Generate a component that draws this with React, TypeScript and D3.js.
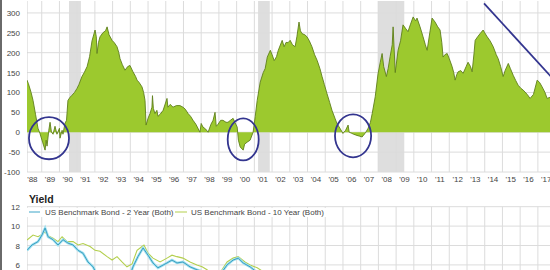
import React from "react";
import * as d3 from "d3";

// ---- Data ----
const yearTicks = [1988,1989,1990,1991,1992,1993,1994,1995,1996,1997,1998,1999,2000,2001,2002,2003,2004,2005,2006,2007,2008,2009,2010,2011,2012,2013,2014,2015,2016,2017];
const yearLabels = ["'88","'89","'90","'91","'92","'93","'94","'95","'96","'97","'98","'99","'00","'01","'02","'03","'04","'05","'06","'07","'08","'09","'10","'11","'12","'13","'14","'15","'16","'17"];
const spreadTicks = [-100, -50, 0, 50, 100, 150, 200, 250, 300];
const yieldTicks = [6, 8, 10, 12];

const spreadDates = [
  1988.17,1988.25,1988.40,1988.51,1988.65,1988.79,1988.90,1989.05,1989.19,1989.25,1989.30,1989.40,1989.47,1989.55,1989.64,1989.75,1989.86,1990.00,1990.03,1990.15,1990.20,1990.31,1990.40,1990.48,1990.60,1990.71,1990.85,1990.99,
  1991.10,1991.27,1991.40,1991.56,1991.70,1991.84,1992.01,1992.08,1992.12,1992.20,1992.29,1992.45,1992.60,1992.69,1992.80,1992.97,1993.10,1993.25,1993.35,1993.42,1993.55,1993.70,1993.85,1993.98,
  1994.15,1994.30,1994.38,1994.50,1994.66,1994.75,1994.83,1994.89,1995.00,1995.11,1995.22,1995.25,1995.30,1995.39,1995.50,1995.56,1995.68,1995.85,1996.07,1996.12,1996.25,1996.41,1996.60,1996.80,1996.97,
  1997.10,1997.26,1997.40,1997.54,1997.70,1997.93,1998.00,1998.10,1998.25,1998.39,1998.55,1998.67,1998.78,1998.85,1998.95,1999.10,1999.23,1999.40,1999.51,1999.65,1999.80,1999.90,
  2000.03,2000.10,2000.20,2000.37,2000.45,2000.59,2000.76,2000.93,2001.05,2001.16,2001.33,2001.50,2001.61,2001.73,2001.90,2002.00,2002.12,2002.25,2002.35,2002.57,2002.68,2002.79,2002.90,
  2003.02,2003.15,2003.30,2003.40,2003.52,2003.60,2003.69,2003.85,2003.97,2004.10,2004.25,2004.40,2004.54,2004.70,2004.82,2004.95,2005.10,2005.25,2005.38,2005.55,2005.66,2005.83,
  2006.00,2006.15,2006.29,2006.35,2006.46,2006.60,2006.79,2006.95,2007.08,2007.20,2007.25,2007.42,2007.55,2007.65,2007.82,2007.98,2008.10,2008.21,2008.30,2008.45,2008.55,2008.66,2008.78,2008.83,2008.95,
  2009.11,2009.25,2009.39,2009.55,2009.67,2009.80,2009.96,2010.10,2010.18,2010.35,2010.52,2010.65,2010.75,2010.90,2011.03,2011.20,2011.35,2011.48,2011.58,2011.65,2011.75,2011.88,
  2012.00,2012.16,2012.25,2012.33,2012.42,2012.50,2012.65,2012.78,2012.95,2013.06,2013.20,2013.29,2013.40,2013.46,2013.60,2013.74,2013.91,2014.00,2014.14,2014.30,2014.48,2014.65,2014.76,2014.90,
  2015.04,2015.15,2015.33,2015.45,2015.61,2015.75,2015.89,2016.05,2016.17,2016.40,2016.56,2016.75,2016.96,2017.10,2017.24,2017.40,2017.52,2017.69,2017.80
];
const spreadValues = [
  131,122,100,80,45,10,-3,-25,-45,-20,-35,5,25,0,-5,15,-5,10,-15,5,-5,22,30,80,88,93,100,110,
  120,140,150,165,190,230,257,240,198,225,240,250,255,265,245,231,225,215,200,185,170,156,165,168,
  152,140,131,125,114,100,80,18,35,47,63,92,60,47,55,40,45,55,85,63,70,63,67,67,63,
  58,47,40,30,20,0,22,13,8,0,20,30,50,15,20,30,30,25,25,30,35,25,
  13,-20,-37,-45,-30,-25,-20,0,40,80,126,150,160,189,206,195,180,190,206,231,215,226,225,
  231,220,215,240,277,255,248,245,240,230,215,195,181,160,140,120,97,75,55,35,22,10,
  -3,5,18,0,-2,-5,-8,-10,-12,-5,-3,10,25,47,89,147,175,198,165,140,160,190,220,265,150,
  206,230,270,260,253,270,290,280,287,265,240,220,206,250,287,277,265,257,225,189,195,198,
  185,165,150,131,145,152,155,148,165,176,165,152,200,231,240,248,257,250,240,230,215,195,185,165,
  140,155,173,160,143,130,118,110,106,95,85,95,131,125,114,100,85,88,85
];

const recessionStarts = [1990.54, 2001.21, 2007.96];
const recessionEnds = [1991.21, 2001.87, 2009.46];

// circled inversions: centre (year, bp) and radii (years, bp)
const circleYears = [1989.41, 2000.37, 2006.57];
const circleValues = [-15, -18, -9];
const circleRx = [1.13, 0.875, 1.02];
const circleRy = [53, 53, 54];

const trendYears = [2013.96, 2017.72];
const trendValues = [324, 141];

const y2Dates = [1988.17,1988.45,1988.79,1989.02,1989.19,1989.36,1989.64,1989.92,1990.20,1990.48,1990.77,1991.05,1991.33,1991.61,1991.90,1992.06,1992.5,1993.0,1993.8,1994.15,1994.43,1994.72,1995.00,1995.28,1995.56,1996.07,1996.35,1996.63,1996.97,1997.37,1997.76,1998.10,1998.70,1999.07,1999.46,1999.80,2000.09,2000.37,2000.76,2001.04,2001.33,2002.0];
const y2Values = [7.5,8.05,8.4,9.1,9.8,8.9,8.6,8.05,8.6,8.25,8.05,7.5,7.2,6.3,5.8,5.2,4.3,4.2,4.0,5.8,6.85,7.75,7.0,6.2,5.7,6.2,6.5,6.2,6.3,5.8,5.5,5.3,4.5,5.0,6.0,6.5,6.7,6.2,5.8,5.4,4.2,3.0];
const y10Dates = [1988.17,1988.51,1988.79,1989.07,1989.19,1989.36,1989.64,1989.92,1990.15,1990.43,1990.77,1991.05,1991.33,1991.73,1992.01,1992.29,1992.69,1992.97,1993.25,1993.53,1993.81,1994.10,1994.38,1994.66,1994.77,1995.00,1995.28,1995.68,1996.07,1996.35,1996.63,1996.97,1997.37,1997.76,1998.05,1998.33,1998.80,1999.07,1999.46,1999.80,2000.09,2000.47,2000.76,2001.16,2001.5,2002.0];
const y10Values = [8.57,9.08,8.9,9.2,9.4,9.0,8.75,8.4,8.9,8.4,8.4,8.05,8.2,7.9,7.5,7.4,6.85,6.5,6.85,6.3,5.8,6.1,7.5,7.9,8.05,7.2,6.7,6.3,6.7,7.0,6.85,6.7,6.3,6.0,5.8,5.5,4.6,5.2,6.3,6.7,6.85,6.3,6.0,5.7,5.3,5.0];

const FONT = "'Liberation Sans', Arial, sans-serif";

export default function App() {
  const W = 550, H = 270;
  const x = d3.scaleLinear().domain([1988, 2018]).range([24.0, 24.0 + 30 * 17.72]);
  const plotL = 27, plotR = 560;
  const yS = d3.scaleLinear().domain([-100, 330]).range([172, 1]);
  const yY = d3.scaleLinear().domain([0, 12]).range([206.7 + 12 * 9.7, 206.7]);

  const spread = spreadDates.map((t, i) => ({ t, v: spreadValues[i] }));
  const area = d3.area<{ t: number; v: number }>().x(d => x(d.t)).y0(yS(0)).y1(d => yS(d.v));
  const line = d3.line<{ t: number; v: number }>().x(d => x(d.t)).y(d => yS(d.v));

  const y2 = y2Dates.map((t, i) => ({ t, v: y2Values[i] }));
  const y10 = y10Dates.map((t, i) => ({ t, v: y10Values[i] }));
  const yl = d3.line<{ t: number; v: number }>().x(d => x(d.t)).y(d => yY(d.v));

  const gridC = "#dcdcdc";
  const navy = "#33358f";

  return (
    <svg width={W} height={H} style={{ position: "absolute", left: 0, top: 0, background: "#fff" }} fontFamily={FONT}>
      <defs>
        <clipPath id="topClip"><rect x={plotL} y={0} width={plotR - plotL} height={173} /></clipPath>
        <clipPath id="botClip"><rect x={plotL} y={206} width={plotR - plotL} height={80} /></clipPath>
      </defs>
      <rect x={0} y={0} width={W} height={H} fill="#fff" />

      {/* top panel */}
      <g clipPath="url(#topClip)">
        {recessionStarts.map((s, i) => (
          <rect key={"r" + i} x={x(s)} y={yS(330)} width={x(recessionEnds[i]) - x(s)} height={yS(-100) - yS(330)} fill="#dedede" />
        ))}
        {spreadTicks.map(t => (
          <line key={"h" + t} x1={plotL} x2={plotR} y1={yS(t)} y2={yS(t)} stroke={gridC} strokeWidth={1} />
        ))}
        {yearTicks.map(t => (
          <line key={"v" + t} x1={x(t)} x2={x(t)} y1={yS(330)} y2={yS(-100)} stroke={gridC} strokeWidth={1} />
        ))}
        <line x1={plotL} x2={plotL} y1={yS(330)} y2={yS(-100)} stroke="#d0d0d0" />
        <path d={area(spread) || ""} fill="#9cc92e" />
        <path d={line(spread) || ""} fill="none" stroke="#5f7f1c" strokeWidth={0.9} />
        {circleYears.map((c, i) => (
          <ellipse key={"c" + i} cx={x(c)} cy={yS(circleValues[i])}
            rx={x(c + circleRx[i]) - x(c)} ry={yS(circleValues[i] - circleRy[i]) - yS(circleValues[i])}
            fill="none" stroke={navy} strokeWidth={1.8} />
        ))}
        <line x1={x(trendYears[0])} y1={yS(trendValues[0])} x2={x(trendYears[1])} y2={yS(trendValues[1])} stroke={navy} strokeWidth={1.8} />
      </g>
      {spreadTicks.map(t => (
        <text key={"yl" + t} x={20} y={yS(t) + 3} fontSize={8} fill="#444" textAnchor="end">{t}</text>
      ))}
      {yearTicks.map((t, i) => (
        <text key={"xl" + t} x={x(t + 0.5) - 0.5} y={182} fontSize={8} fill="#444" textAnchor="middle">{yearLabels[i]}</text>
      ))}

      {/* bottom panel */}
      <text x={29} y={203} fontSize={10.5} fontWeight="bold" fill="#222">Yield</text>
      <g clipPath="url(#botClip)">
        {yieldTicks.map(t => (
          <line key={"bh" + t} x1={plotL} x2={plotR} y1={yY(t)} y2={yY(t)} stroke={gridC} strokeWidth={1} />
        ))}
        {yearTicks.map(t => (
          <line key={"bv" + t} x1={x(t)} x2={x(t)} y1={yY(12)} y2={H + 10} stroke={gridC} strokeWidth={1} />
        ))}
        <line x1={plotL} x2={plotL} y1={yY(12)} y2={H + 10} stroke="#d0d0d0" />
        <path d={yl(y10) || ""} fill="none" stroke="#b3cf4c" strokeWidth={1.1} />
        <path d={yl(y2) || ""} fill="none" stroke="#9fe0f0" strokeWidth={2.6} />
        <path d={yl(y2) || ""} fill="none" stroke="#3c9fc0" strokeWidth={1} />
      </g>
      <rect x={27} y={208} width={300} height={9} fill="#fff" />
      <line x1={29} x2={40} y1={212} y2={212} stroke="#3ca5c8" strokeWidth={1} />
      <text x={45} y={215} fontSize={8} fill="#444">US Benchmark Bond - 2 Year (Both)</text>
      <line x1={175} x2={187} y1={212} y2={212} stroke="#b3cf4c" strokeWidth={1} />
      <text x={191} y={215} fontSize={8} fill="#444">US Benchmark Bond - 10 Year (Both)</text>
      {yieldTicks.map(t => (
        <text key={"byl" + t} x={20} y={yY(t) + 3} fontSize={8} fill="#444" textAnchor="end">{t}</text>
      ))}

      {/* left frame edge */}
      <rect x={0} y={0} width={2} height={H} fill="#6a6a6a" />
    </svg>
  );
}
